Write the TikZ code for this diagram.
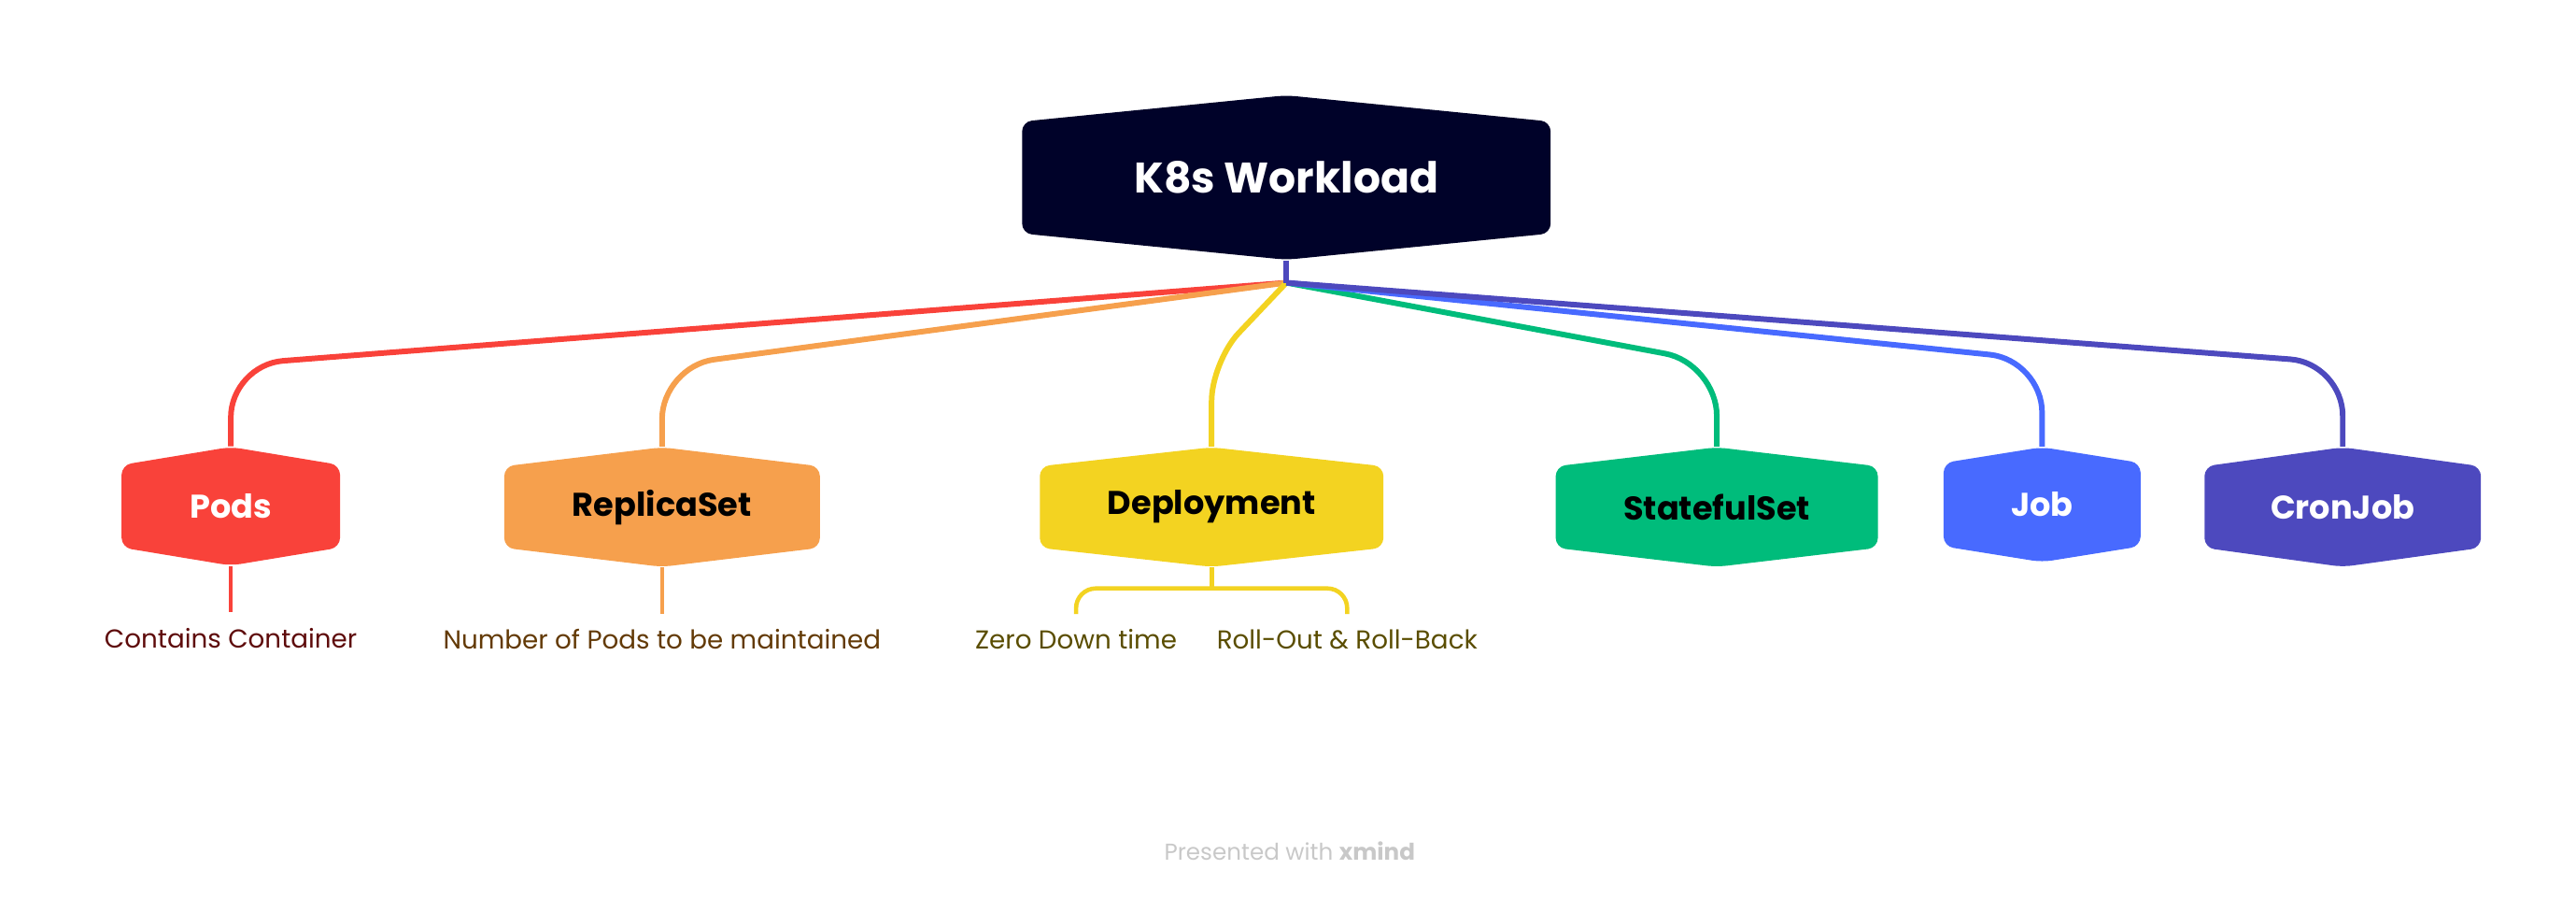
\documentclass[tikz,border=0pt]{standalone}
\usepackage{fontspec}
\setmainfont{Poppins}
\usetikzlibrary{positioning}

\definecolor{rootnavy}{HTML}{000229}
\definecolor{podred}{HTML}{F9423A}
\definecolor{rsorange}{HTML}{F6A04D}
\definecolor{depyellow}{HTML}{F3D321}
\definecolor{ssgreen}{HTML}{00BC7B}
\definecolor{jobblue}{HTML}{486AFF}
\definecolor{cronpurple}{HTML}{4D49BE}
\definecolor{podtext}{HTML}{5E0B0B}
\definecolor{rstext}{HTML}{633A06}
\definecolor{deptext}{HTML}{5A4D00}
\definecolor{footgrey}{HTML}{C8C8C8}

\tikzset{
  hexbox/.style 2 args={inner sep=0pt, font=\bfseries\fontsize{10}{12}\selectfont,
    path picture={
      \fill[#1, rounded corners=3pt]
        ([yshift=#2]path picture bounding box.south west)
        -- ([yshift=-#2]path picture bounding box.north west)
        -- (path picture bounding box.north)
        -- ([yshift=-#2]path picture bounding box.north east)
        -- ([yshift=#2]path picture bounding box.south east)
        -- (path picture bounding box.south) -- cycle ;}},
  branch/.style={line width=1.7pt, rounded corners=16pt},
  twig/.style={line width=1.3pt},
  subtext/.style={font=\fontsize{7.9}{10}\selectfont, text height=6pt, text depth=2pt, inner sep=4.5pt}
}

\begin{document}
\begin{tikzpicture}[x=0.01759cm, y=-0.01759cm]

      \useasboundingbox (0,0) rectangle (1568,545.8) ;

      % main topic
      \node [hexbox={rootnavy}{8pt}, minimum width=5.66cm, minimum height=1.76cm,
             text=white, font=\bfseries\fontsize{13}{15}\selectfont] (root) at (783,108) {K8s Workload} ;
      \coordinate (hub) at (783,172) ;

      % workloads
      \node [hexbox={podred}{5.5pt}, minimum width=2.34cm, minimum height=1.27cm, text=white] (pods) at (140.5,308) {Pods} ;
      \node [hexbox={rsorange}{5.8pt}, minimum width=3.38cm, minimum height=1.28cm] (replica) at (403,308.5) {ReplicaSet} ;
      \node [hexbox={depyellow}{5.8pt}, minimum width=3.68cm, minimum height=1.28cm] (deploy) at (737.5,308.5) {Deployment} ;
      \node [hexbox={ssgreen}{5.8pt}, minimum width=3.45cm, minimum height=1.28cm] (stateful) at (1045,308.5) {StatefulSet} ;
      \node [hexbox={jobblue}{4.8pt}, minimum width=2.11cm, minimum height=1.23cm, text=white] (job) at (1243,307) {Job} ;
      \node [hexbox={cronpurple}{5.8pt}, minimum width=2.96cm, minimum height=1.28cm, text=white] (cron) at (1426,308.5) {CronJob} ;

      % branches
      \draw [branch, podred] (hub) -- (140.5,222) -- (pods.north) ;
      \draw [branch, rsorange] (hub) -- (403,223) -- (replica.north) ;
      \draw [branch, depyellow, rounded corners=12pt] (hub) -- (737.5,220) -- (deploy.north) ;
      \draw [branch, ssgreen] (hub) -- (1045,221) -- (stateful.north) ;
      \draw [branch, jobblue] (hub) -- (1243,219) -- (job.north) ;
      \draw [branch, cronpurple] (hub) -- (1426,221) -- (cron.north) ;
      \draw [branch, cronpurple] (root.south) -- (hub) ;

      % details
      \node [subtext, text=podtext] (contains) at (140.5,390) {Contains Container} ;
      \node [subtext, text=rstext] (number) at (403,391) {Number of Pods to be maintained} ;
      \node [subtext, text=deptext] (zero) at (655,391) {Zero Down time} ;
      \node [subtext, text=deptext] (roll) at (820,391) {Roll-Out \& Roll-Back} ;
      \coordinate (dephub) at (737.5,358) ;

      \draw [twig, podred] (pods.south) -- (contains.north) ;
      \draw [twig, rsorange] (replica.south) -- (number.north) ;
      \draw [twig, depyellow] (deploy.south) -- (dephub) ;
      \draw [twig, depyellow, rounded corners=6pt] (zero.north) -- (zero.north |- dephub) -- (roll.north |- dephub) -- (roll.north) ;

      \node [text=footgrey, font=\fontsize{7}{9}\selectfont] (footer) at (785,518) {Presented with \textbf{xmind}} ;
    \end{tikzpicture}
\end{document}
